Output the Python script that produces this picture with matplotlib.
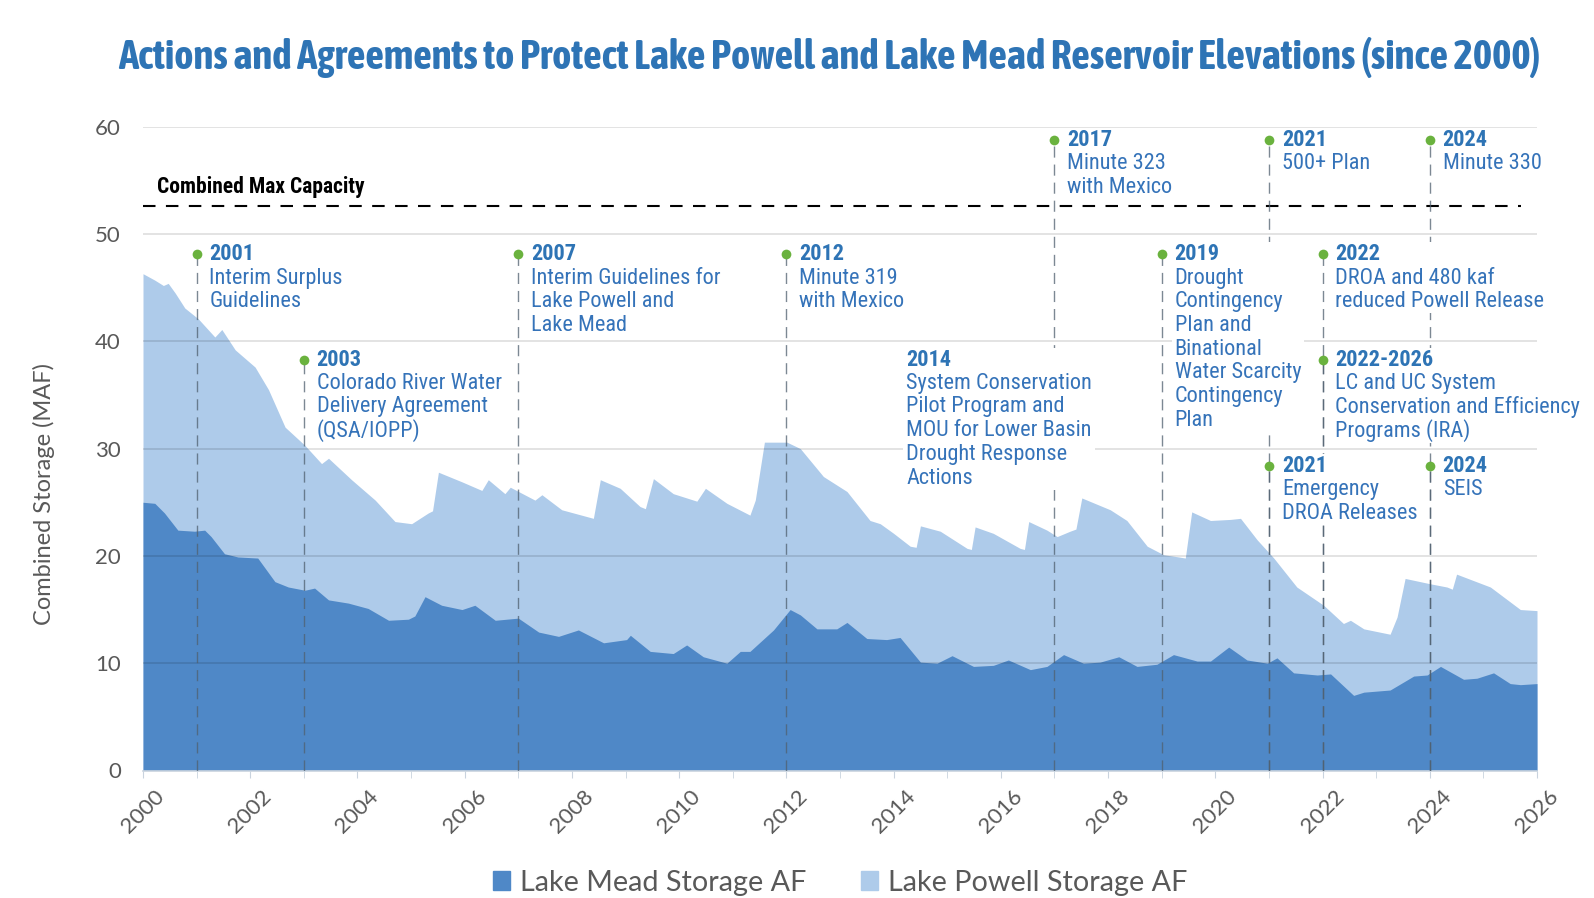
import matplotlib
matplotlib.use("Agg")
import matplotlib.pyplot as plt
from matplotlib import font_manager as fm
from matplotlib.patches import Patch, Rectangle
from matplotlib.transforms import Bbox

# combined storage (top of the light area), MAF
combined_years = [2000.00, 2000.22, 2000.38, 2000.47, 2000.60, 2000.78, 2001.03, 2001.34, 2001.47, 2001.72,
                  2002.09, 2002.34, 2002.65, 2003.02, 2003.33, 2003.46, 2003.89, 2004.33, 2004.70, 2005.01,
                  2005.32, 2005.40, 2005.51, 2005.95, 2006.32, 2006.44, 2006.75, 2006.85, 2007.31, 2007.44,
                  2007.81, 2008.40, 2008.53, 2008.90, 2009.27, 2009.37, 2009.52, 2009.89, 2010.33, 2010.49,
                  2010.89, 2011.32, 2011.42, 2011.59, 2012.01, 2012.26, 2012.69, 2013.13, 2013.56, 2013.75,
                  2014.00, 2014.31, 2014.42, 2014.50, 2014.87, 2015.37, 2015.45, 2015.52, 2015.86, 2016.36,
                  2016.44, 2016.52, 2016.86, 2017.05, 2017.29, 2017.40, 2017.51, 2018.04, 2018.35, 2018.73,
                  2019.04, 2019.32, 2019.44, 2019.56, 2019.91, 2020.28, 2020.47, 2020.78, 2021.09, 2021.52,
                  2022.02, 2022.39, 2022.52, 2022.77, 2023.26, 2023.39, 2023.54, 2024.01, 2024.32, 2024.42,
                  2024.50, 2025.13, 2025.69, 2026.00]
combined_maf = [46.3, 45.7, 45.2, 45.4, 44.5, 43.1, 42.1, 40.4, 41.1, 39.2,
                37.6, 35.5, 32.0, 30.3, 28.6, 29.1, 27.1, 25.2, 23.2, 23.0,
                24.0, 24.2, 27.8, 26.9, 26.1, 27.1, 25.8, 26.4, 25.2, 25.7,
                24.3, 23.5, 27.1, 26.3, 24.6, 24.4, 27.2, 25.8, 25.1, 26.3,
                24.9, 23.8, 25.2, 30.6, 30.6, 30.0, 27.4, 26.0, 23.3, 23.0,
                22.1, 20.9, 20.8, 22.8, 22.3, 20.7, 20.6, 22.7, 22.1, 20.7,
                20.6, 23.2, 22.4, 21.8, 22.3, 22.5, 25.4, 24.3, 23.3, 20.9,
                20.1, 19.9, 19.8, 24.1, 23.3, 23.4, 23.5, 21.5, 19.8, 17.1,
                15.4, 13.7, 14.0, 13.2, 12.7, 14.3, 17.9, 17.4, 17.1, 16.9,
                18.3, 17.1, 15.0, 14.9]

# Lake Mead storage, MAF
mead_years = [2000.00, 2000.22, 2000.40, 2000.65, 2000.96, 2001.15, 2001.27, 2001.52, 2001.77, 2002.14,
              2002.46, 2002.71, 2003.02, 2003.20, 2003.46, 2003.83, 2004.20, 2004.58, 2004.95, 2005.07,
              2005.26, 2005.57, 2005.95, 2006.19, 2006.57, 2007.00, 2007.38, 2007.75, 2008.12, 2008.59,
              2009.02, 2009.09, 2009.46, 2009.89, 2010.14, 2010.45, 2010.89, 2011.14, 2011.32, 2011.76,
              2012.07, 2012.26, 2012.57, 2012.94, 2013.13, 2013.50, 2013.87, 2014.12, 2014.50, 2014.81,
              2015.09, 2015.49, 2015.86, 2016.14, 2016.55, 2016.86, 2017.17, 2017.54, 2017.85, 2018.20,
              2018.54, 2018.91, 2019.22, 2019.66, 2019.91, 2020.25, 2020.59, 2020.97, 2021.15, 2021.46,
              2021.90, 2022.15, 2022.58, 2022.77, 2023.26, 2023.70, 2023.95, 2024.20, 2024.63, 2024.88,
              2025.19, 2025.50, 2025.69, 2026.00]
mead_maf = [25.0, 24.9, 24.0, 22.4, 22.3, 22.4, 21.8, 20.2, 19.9, 19.8,
            17.6, 17.1, 16.8, 17.0, 15.9, 15.6, 15.1, 14.0, 14.1, 14.4,
            16.2, 15.4, 15.0, 15.4, 14.0, 14.2, 12.9, 12.5, 13.1, 11.9,
            12.2, 12.6, 11.1, 10.9, 11.7, 10.6, 10.0, 11.1, 11.1, 13.1,
            15.0, 14.5, 13.2, 13.2, 13.8, 12.3, 12.2, 12.4, 10.1, 10.0,
            10.7, 9.7, 9.8, 10.3, 9.4, 9.7, 10.8, 10.0, 10.1, 10.6,
            9.7, 9.9, 10.8, 10.2, 10.2, 11.5, 10.3, 10.0, 10.5, 9.1,
            8.9, 9.0, 7.0, 7.3, 7.5, 8.8, 8.9, 9.7, 8.5, 8.6,
            9.1, 8.1, 8.0, 8.1]

max_capacity = 52.6

# annotations: x position, level, heading, description lines, marker
note_x = [2001, 2003, 2007, 2012, 2014, 2017, 2019, 2021, 2021, 2022, 2022, 2024, 2024]
note_y = [48.1, 38.3, 48.1, 48.1, 38.3, 58.8, 48.1, 58.8, 28.4, 48.1, 38.3, 58.8, 28.4]
note_head = ["2001", "2003", "2007", "2012", "2014", "2017", "2019", "2021", "2021",
             "2022", "2022-2026", "2024", "2024"]
note_text = [
    ["Interim Surplus", "Guidelines"],
    ["Colorado River Water", "Delivery Agreement", "(QSA/IOPP)"],
    ["Interim Guidelines for", "Lake Powell and", "Lake Mead"],
    ["Minute 319", "with Mexico"],
    ["System Conservation", "Pilot Program and", "MOU for Lower Basin", "Drought Response", "Actions"],
    ["Minute 323", "with Mexico"],
    ["Drought", "Contingency", "Plan and", "Binational", "Water Scarcity", "Contingency", "Plan"],
    ["500+ Plan"],
    ["Emergency", "DROA Releases"],
    ["DROA and 480 kaf", "reduced Powell Release"],
    ["LC and UC System", "Conservation and Efficiency", "Programs (IRA)"],
    ["Minute 330"],
    ["SEIS"],
]
note_dot = [True, True, True, True, False, True, True, True, True, True, True, True, True]

fonts = fm.fontManager.ttflist


def pick_font(cands, fallback, bold=False):
    for c in cands:
        ws = [f.weight for f in fonts if f.name == c]
        ws = [w if isinstance(w, int) else 700 if w == "bold" else 400 for w in ws]
        if ws and (not bold or max(ws) >= 700):
            return c
    return fallback


narrow = pick_font(["Roboto Condensed", "Liberation Sans Narrow"], "Liberation Sans")
title_font = pick_font(["Archivo Narrow", "Asap Condensed", "Roboto Condensed"], narrow, bold=True)
body = pick_font(["Lato", "Open Sans"], "DejaVu Sans")

mead_col = "#4F88C7"
powell_col = "#AECBEA"
title_col = "#2E74B5"
note_col = "#3573B9"
green = "#6AB23E"
gray_txt = "#595959"

fig = plt.figure(figsize=(15.94, 8.98), dpi=100)
ax = fig.add_axes([143 / 1594, 1 - 770.5 / 898, 1394 / 1594, 643.8 / 898])

ax.fill_between(combined_years, 0, combined_maf, color=powell_col, lw=0, zorder=1)
ax.fill_between(mead_years, 0, mead_maf, color=mead_col, lw=0, zorder=2)

for g in range(10, 70, 10):
    ax.axhline(g, color="k", alpha=0.14, lw=1.1, zorder=3)

ax.hlines(max_capacity, 2000, 2025.7, colors="k", lw=1.5, linestyles=(0, (6, 5)), zorder=4)
ax.text(2000.27, 54.4, "Combined Max Capacity", fontfamily=narrow, fontweight="bold",
        fontsize=15.5, color="k", va="center", ha="left", zorder=6)

note_groups = []
for x, y, head, lines, dot in zip(note_x, note_y, note_head, note_text, note_dot):
    if dot:
        ax.plot([x, x], [0, y], color="#50606F", alpha=0.75, lw=1.0, ls=(0, (8, 5)), zorder=4)
        ax.plot(x, y, "o", color=green, ms=7, mec="none", zorder=7, clip_on=False)
    tx = x + 0.24
    grp = [ax.text(tx, y, head, fontfamily=narrow, fontweight="bold", fontsize=16, color=title_col,
                   va="center", ha="left", zorder=6, clip_on=False)]
    for i, ln in enumerate(lines):
        grp.append(ax.text(tx, y - 2.21 * (i + 1), ln, fontfamily=narrow, fontsize=16, color=note_col,
                           va="center", ha="left", zorder=6, clip_on=False))
    note_groups.append(grp)

ax.set_xlim(2000, 2026)
ax.set_ylim(0, 60)
ax.set_xticks(range(2000, 2027, 2))
ax.set_xticks(range(2000, 2027, 1), minor=True)
ax.set_yticks(range(0, 61, 10))
for s in ["top", "right", "left"]:
    ax.spines[s].set_visible(False)
ax.spines["bottom"].set_color("#C9D3DE")
ax.spines["bottom"].set_linewidth(1.2)
ax.tick_params(axis="y", length=0, pad=16, labelsize=16, labelcolor=gray_txt)
ax.tick_params(axis="x", which="both", length=5, color="#C9D3DE", pad=6, labelsize=16,
               labelcolor=gray_txt)
for lab in ax.get_xticklabels():
    lab.set_rotation(45)
    lab.set_fontfamily(body)
for lab in ax.get_yticklabels():
    lab.set_fontfamily(body)

ax.set_ylabel("Combined Storage (MAF)", fontfamily=body, fontsize=17, color=gray_txt)
ax.yaxis.set_label_coords(-0.063, 0.43)

title = fig.text(0.520, 0.936, "Actions and Agreements to Protect Lake Powell and Lake Mead Reservoir Elevations (since 2000)",
                 fontfamily=title_font, fontweight="bold", fontsize=30, color=title_col,
                 ha="center", va="center")

handles = [Patch(color=mead_col, label="Lake Mead Storage AF"),
           Patch(color=powell_col, label="Lake Powell Storage AF")]
fig.legend(handles=handles, loc="center", bbox_to_anchor=(0.527, 0.017), ncol=2, frameon=False,
           prop={"family": body, "size": 20.7}, labelcolor=gray_txt, handlelength=0.6,
           handleheight=0.6, handletextpad=0.35, columnspacing=1.9)

# white boxes behind each note, and fit the title to the reference width
fig.canvas.draw()
r = fig.canvas.get_renderer()
w = title.get_window_extent(r).width
title.set_fontsize(30 * 1422 / w)
inv = ax.transData.inverted()
for grp in note_groups:
    bb = Bbox.union([t.get_window_extent(r) for t in grp])
    (x0, y0), (x1, y1) = inv.transform([[bb.x0 - 3, bb.y0 - 1], [bb.x1 + 3, bb.y1 + 1]])
    ax.add_patch(Rectangle((x0, y0), x1 - x0, y1 - y0, fc="white", ec="none", zorder=5, clip_on=False))

fig.savefig("out.png", dpi=100)
